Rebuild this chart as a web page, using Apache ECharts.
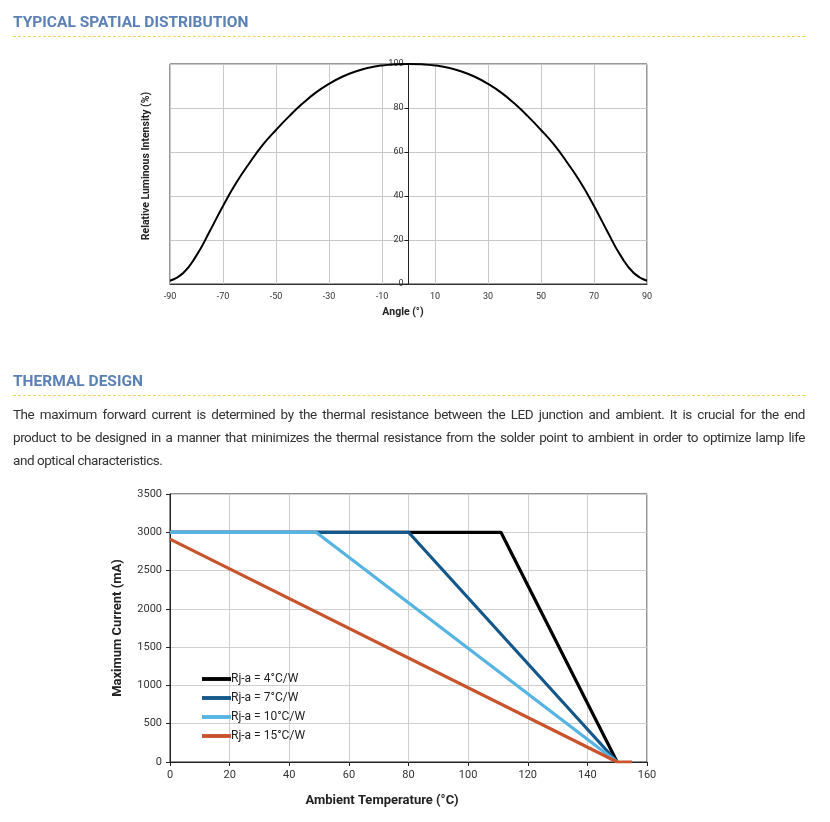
<!DOCTYPE html>
<html>
<head>
<meta charset="utf-8">
<title>Spatial distribution / thermal design</title>
<script src="https://cdn.jsdelivr.net/npm/echarts@6/dist/echarts.min.js"></script>
<style>
  html, body { margin: 0; padding: 0; background: #fff; }
  body { width: 830px; height: 822px; position: relative; overflow: hidden; font-family: Roboto, "Noto Sans", sans-serif; }
  #main { position: absolute; left: 0; top: 0; width: 830px; height: 822px; }
  .head { position: absolute; left: 13px; width: 792px; color: #5b80b6; font-weight: bold; font-size: 15.5px; line-height: 16px;
          padding-bottom: 6px; border-bottom: 1px dashed #f0d45a; }
  .txt { position: absolute; left: 13px; width: 792px; color: #333; font-size: 13.5px; letter-spacing: -0.45px; white-space: nowrap; line-height: 16px; }
  .just { text-align: justify; text-align-last: justify; }
</style>
</head>
<body>
<div id="main"></div>
<div class="head" style="top:14px">TYPICAL SPATIAL DISTRIBUTION</div>
<div class="head" style="top:373px">THERMAL DESIGN</div>
<div class="txt just" style="top:406px">The maximum forward current is determined by the thermal resistance between the LED junction and ambient. It is crucial for the end</div>
<div class="txt just" style="top:429px">product to be designed in a manner that minimizes the thermal resistance from the solder point to ambient in order to optimize lamp life</div>
<div class="txt" style="top:452px">and optical characteristics.</div>
<script>
// --- spatial distribution (angle in degrees, relative intensity %) ---
var angleDeg = [-90,-85,-80,-75,-70,-65,-60,-55,-50,-45,-40,-35,-30,-25,-20,-15,-10,-5,0,
                5,10,15,20,25,30,35,40,45,50,55,60,65,70,75,80,85,90];
var intensity = [1.5,5,13,24,35.5,46,55,63.2,70,76.3,82,87,91,94.2,96.6,98.3,99.35,99.85,100,
                 99.85,99.35,98.3,96.6,94.2,91,87,82,76.3,70,63.2,55,46,35.5,24,13,5,1.5];

// --- thermal derating (ambient temperature °C, max current mA) ---
var seriesNames = ['Rj-a = 4°C/W', 'Rj-a = 7°C/W', 'Rj-a = 10°C/W', 'Rj-a = 15°C/W'];
var rj4Temp = [0, 111, 150],   rj4Curr = [3000, 3000, 0];
var rj7Temp = [0, 80, 150],    rj7Curr = [3000, 3000, 0];
var rj10Temp = [0, 49, 150],   rj10Curr = [3000, 3000, 0];
var rj15Temp = [0, 150, 155],  rj15Curr = [2910, 0, 0];
var lineColors = ['#000000', '#14578b', '#55b4e2', '#c9532c'];

function pairs(xs, ys) {
  var out = [];
  for (var i = 0; i < xs.length; i++) out.push([xs[i], ys[i]]);
  return out;
}

var chart = echarts.init(document.getElementById('main'));
var curves = [pairs(rj4Temp, rj4Curr), pairs(rj7Temp, rj7Curr), pairs(rj10Temp, rj10Curr), pairs(rj15Temp, rj15Curr)];

var thermalSeries = curves.map(function (d, i) {
  return {
    name: seriesNames[i], type: 'line', xAxisIndex: 1, yAxisIndex: 1,
    data: d, symbol: 'none', color: lineColors[i],
    lineStyle: { width: 3.2, color: lineColors[i] }
  };
});

// grid 1 spans -90..90, so x=0 sits half way across
var grid1Width = 477;

chart.setOption({
  animation: false,
  textStyle: { fontFamily: 'Roboto' },
  grid: [
    { left: 170, top: 64, width: grid1Width, height: 220, show: true, borderColor: '#333', borderWidth: 1, backgroundColor: 'transparent' },
    { left: 170, top: 494, width: 477, height: 268, show: true, borderColor: '#222', borderWidth: 1, backgroundColor: 'transparent' }
  ],
  xAxis: [
    {
      gridIndex: 0, type: 'value', min: -90, max: 90, interval: 20,
      name: 'Angle (°)', nameLocation: 'middle', nameGap: 23,
      nameTextStyle: { fontSize: 10.5, fontWeight: 'bold', color: '#222', padding: [0, 11, 0, 0] },
      axisLine: { lineStyle: { color: '#333' } },
      axisTick: { show: false },
      axisLabel: { fontSize: 9, color: '#333', margin: 8 },
      splitLine: { lineStyle: { color: '#c8c8c8' } }
    },
    {
      gridIndex: 1, type: 'value', min: 0, max: 160, interval: 20,
      name: 'Ambient Temperature (°C)', nameLocation: 'middle', nameGap: 32,
      nameTextStyle: { fontSize: 13, fontWeight: 'bold', color: '#222', padding: [0, 53, 0, 0] },
      axisLine: { lineStyle: { color: '#222' } },
      axisTick: { show: true, length: 4, lineStyle: { color: '#222' } },
      axisLabel: { fontSize: 11, color: '#333', margin: 8 },
      splitLine: { lineStyle: { color: '#cfcfcf' } }
    }
  ],
  yAxis: [
    {
      gridIndex: 0, type: 'value', min: 0, max: 100, interval: 20,
      offset: -grid1Width / 2,
      axisLine: { onZero: false, lineStyle: { color: '#222' } },
      axisTick: { show: true, length: 4, lineStyle: { color: '#222' } },
      axisLabel: { fontSize: 9, color: '#333', margin: 5 },
      splitLine: { lineStyle: { color: '#c8c8c8' } }
    },
    {
      gridIndex: 1, type: 'value', min: 0, max: 3500, interval: 500,
      name: 'Maximum Current (mA)', nameLocation: 'middle', nameGap: 46,
      nameTextStyle: { fontSize: 13, fontWeight: 'bold', color: '#222' },
      axisLine: { lineStyle: { color: '#222' } },
      axisTick: { show: true, length: 4, lineStyle: { color: '#222' } },
      axisLabel: { fontSize: 11, color: '#333', margin: 8, formatter: function (v) { return String(v); } },
      splitLine: { lineStyle: { color: '#cfcfcf' } }
    }
  ],
  legend: {
    data: seriesNames, orient: 'vertical', left: 197, top: 668,
    icon: 'path://M0,0H30V4H0Z',
    itemWidth: 29, itemHeight: 14, itemGap: 7,
    textStyle: { fontSize: 12, color: '#222', padding: [0, 0, 0, -5] }
  },
  graphic: [
    {
      type: 'text', x: 146, y: 166, rotation: Math.PI / 2,
      style: { text: 'Relative Luminous Intensity (%)', fontSize: 10.5, fontWeight: 'bold', fill: '#222',
               align: 'center', verticalAlign: 'middle', fontFamily: 'Roboto' }
    }
  ],
  series: [
    {
      type: 'line', xAxisIndex: 0, yAxisIndex: 0, smooth: true, symbol: 'none',
      data: pairs(angleDeg, intensity),
      lineStyle: { width: 2, color: '#000' }
    }
  ].concat(thermalSeries)
});
</script>
</body>
</html>
